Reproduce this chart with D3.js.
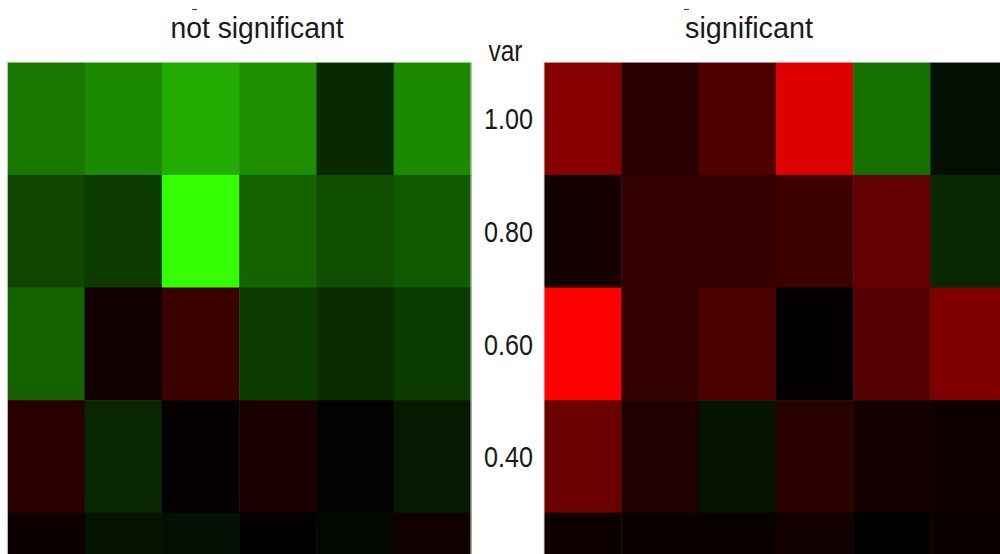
<!DOCTYPE html>
<html>
<head>
<meta charset="utf-8">
<script src="https://cdn.jsdelivr.net/npm/d3@7"></script>
<style>
html,body{margin:0;padding:0;background:#fff;}
svg{display:block;}
text{font-family:"Liberation Sans",Arial,sans-serif;fill:#1a1a1a;}
</style>
</head>
<body>
<div id="chart"></div>
<script>
// ---- data ----
const panels = ["not significant", "significant"];
const columns = ["c1", "c2", "c3", "c4", "c5", "c6"];
const varLevels = [1.00, 0.80, 0.60, 0.40, 0.20];
const tickLabels = ["1.00", "0.80", "0.60", "0.40", "0.20"];
// values: negative -> green, positive -> red (rows follow varLevels)
const notSignificant = [
  [-0.47, -0.54, -0.67, -0.56, -0.16, -0.54],
  [-0.27, -0.23, -1.00, -0.39, -0.31, -0.35],
  [-0.39,  0.07,  0.23, -0.23, -0.17, -0.24],
  [ 0.16, -0.15,  0.02,  0.10, -0.01, -0.10],
  [ 0.05, -0.08, -0.06,  0.01, -0.03,  0.07]
];
const significant = [
  [ 0.53,  0.16,  0.31,  0.87, -0.44, -0.06],
  [ 0.08,  0.20,  0.21,  0.24,  0.39, -0.15],
  [ 1.00,  0.20,  0.29,  0.01,  0.33,  0.50],
  [ 0.42,  0.13, -0.08,  0.16,  0.08,  0.06],
  [ 0.06,  0.04,  0.04,  0.07,  0.00,  0.05]
];
const panelData = [notSignificant, significant];

// ---- layout ----
const W = 1000, H = 554;
const plotTop = 62.3, rowH = 112.6;
const panelW = 463.7;
const panelX = [7.3, 544];

const svg = d3.select("#chart").append("svg")
  .attr("width", W).attr("height", H)
  .style("overflow", "hidden");

const color = d3.scaleLinear()
  .domain([-1, 0, 1])
  .range(["#33ff00", "#000000", "#ff0000"])
  .interpolate(d3.interpolateRgb)
  .clamp(true);

const y = d3.scaleBand()
  .domain(varLevels)
  .range([plotTop, plotTop + rowH * varLevels.length])
  .padding(0);

panels.forEach((name, p) => {
  const x = d3.scaleBand()
    .domain(columns)
    .range([panelX[p], panelX[p] + panelW])
    .padding(0);
  const g = svg.append("g");
  const cells = [];
  panelData[p].forEach((row, r) => row.forEach((v, c) => cells.push({r, c, v})));
  g.selectAll("rect")
    .data(cells)
    .join("rect")
    .attr("x", d => x(columns[d.c]))
    .attr("y", d => y(varLevels[d.r]))
    .attr("width", x.bandwidth() + 0.5)
    .attr("height", y.bandwidth() + 0.5)
    .attr("fill", d => color(d.v));
  // faint panel edges
  g.append("line")
    .attr("x1", panelX[p]).attr("x2", panelX[p])
    .attr("y1", plotTop).attr("y2", H)
    .attr("stroke", "#d0d0d0").attr("stroke-width", 1);
  g.append("line")
    .attr("x1", panelX[p] + panelW).attr("x2", panelX[p] + panelW)
    .attr("y1", plotTop).attr("y2", H)
    .attr("stroke", "#d0d0d0").attr("stroke-width", 1);
  g.append("line")
    .attr("x1", panelX[p]).attr("x2", panelX[p] + panelW)
    .attr("y1", plotTop).attr("y2", plotTop)
    .attr("stroke", "#d8d8d8").attr("stroke-width", 0.6);
});

// panel titles (narrow face emulated with textLength)
const titleX = [257, 749];
const titleLen = [173, 128];
panels.forEach((name, p) => {
  svg.append("text")
    .attr("x", titleX[p]).attr("y", 38)
    .attr("text-anchor", "middle")
    .attr("textLength", titleLen[p])
    .attr("lengthAdjust", "spacingAndGlyphs")
    .style("font-size", "30px")
    .text(name);
  // small clipped mark above title
  svg.append("line")
    .attr("x1", titleX[p] - 65).attr("x2", titleX[p] - 60)
    .attr("y1", 9.5).attr("y2", 9.5)
    .attr("stroke", "#444").attr("stroke-width", 1.2);
});

// central y axis (only ticks inside the visible area)
const axis = d3.axisRight(y)
  .tickValues(varLevels.slice(0, 4))
  .tickFormat(d => tickLabels[varLevels.indexOf(d)])
  .tickSize(0)
  .tickPadding(0);
const ax = svg.append("g")
  .attr("transform", "translate(533,0)")
  .call(axis);
ax.select(".domain").remove();
ax.selectAll("text")
  .attr("text-anchor", "end")
  .attr("x", 0)
  .attr("dy", "0.36em")
  .attr("textLength", 49)
  .attr("lengthAdjust", "spacingAndGlyphs")
  .style("font-size", "30px")
  .style("fill", "#1a1a1a")
  .style("font-family", "'Liberation Sans',Arial,sans-serif");

svg.append("text")
  .attr("x", 505.5).attr("y", 61)
  .attr("text-anchor", "middle")
  .attr("textLength", 34)
  .attr("lengthAdjust", "spacingAndGlyphs")
  .style("font-size", "30px")
  .text("var");
</script>
</body>
</html>
